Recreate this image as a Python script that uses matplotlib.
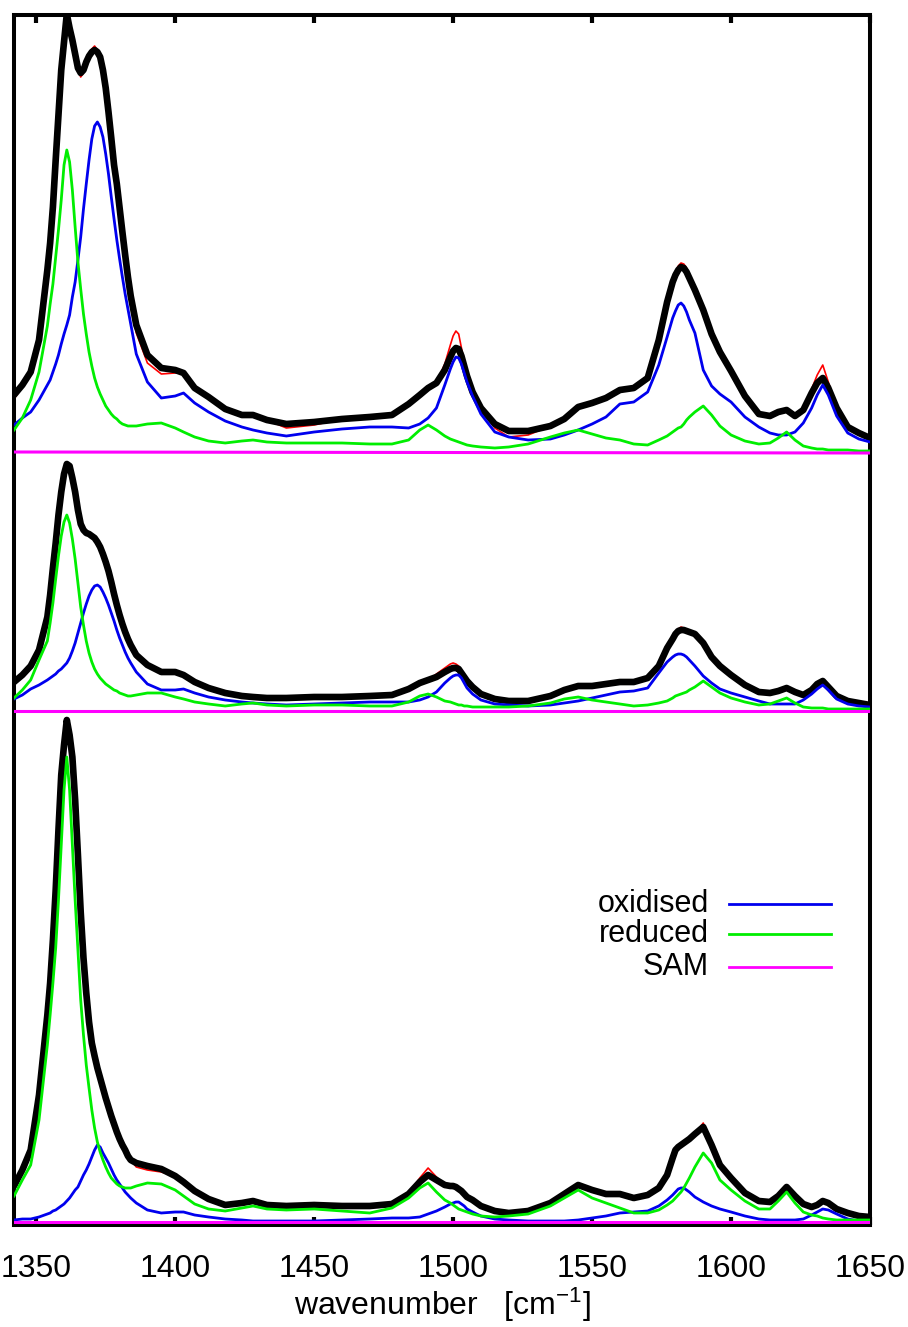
import matplotlib
matplotlib.use('Agg')
import matplotlib.pyplot as plt
import numpy as np

plt.rcParams['font.family'] = ['Liberation Sans', 'DejaVu Sans']
plt.rcParams['mathtext.default'] = 'regular'

wavenumber = [1342, 1345, 1348, 1351, 1354, 1355, 1356, 1357, 1358, 1359,
              1360, 1361, 1362, 1363, 1364, 1365, 1366, 1367, 1368, 1369,
              1370, 1371, 1372, 1373, 1374, 1375, 1376, 1377, 1378, 1379,
              1380, 1381, 1382, 1383, 1384, 1386, 1390, 1395, 1400, 1403,
              1407, 1412, 1418, 1424, 1428, 1433, 1440, 1450, 1460, 1470,
              1478, 1484, 1488, 1491, 1494, 1497, 1499, 1500, 1501, 1502,
              1503, 1504, 1505, 1507, 1510, 1515, 1520, 1527, 1535, 1540,
              1545, 1550, 1555, 1560, 1565, 1570, 1574, 1577, 1579, 1580,
              1581, 1582, 1583, 1584, 1585, 1587, 1590, 1593, 1596, 1600,
              1605, 1610, 1614, 1617, 1620, 1623, 1626, 1629, 1631, 1633,
              1635, 1638, 1642, 1646, 1650]

# top spectrum (arb. units above its SAM baseline)
fit_top = [57, 67, 80, 112, 182, 209, 245, 292, 337, 382,
           410, 438, 424, 412, 398, 384, 379, 382, 390, 396,
           400, 402, 400, 395, 382, 364, 340, 314, 287, 268,
           244, 220, 197, 175, 156, 127, 97, 84, 82, 79,
           64, 55, 43, 37, 37, 32, 28, 30, 33, 35,
           37, 48, 57, 64, 69, 82, 95, 101, 104, 103,
           96, 86, 76, 60, 44, 28, 21, 21, 26, 33,
           45, 49, 54, 62, 64, 74, 112, 150, 170, 177,
           182, 185, 184, 180, 174, 162, 142, 118, 100, 81,
           56, 38, 36, 40, 42, 36, 42, 59, 69, 74,
           64, 44, 25, 19, 14]
resid_top = [-4, -2, 0, 0, 0, 0, 0, 0, 0, 0,
             0, 0, 0, 0, 0, -2, -4, -3, 0, 2,
             3, 4, 2, 0, 0, 0, 0, 0, 0, 0,
             0, 0, -3, -5, -6, -8, -8, -6, -3, 0,
             0, 0, 0, 0, 0, 0, -4, -3, 0, 0,
             0, 0, 0, 0, 0, 6, 12, 15, 17, 15,
             8, 4, 2, 0, 0, -4, -6, -4, 0, 0,
             2, 0, 0, 0, 0, 0, 0, 0, 2, 3,
             4, 4, 4, 4, 3, 0, 3, 0, 0, 0,
             0, 0, 0, 0, 0, 0, 0, 4, 8, 13,
             6, 0, 0, 0, 0]
ox_top = [27, 34, 40, 52, 67, 72, 80, 88, 97, 108,
          118, 127, 137, 155, 170, 192, 215, 243, 268, 292,
          313, 326, 330, 325, 315, 298, 278, 255, 233, 212,
          193, 175, 158, 143, 128, 98, 70, 54, 56, 59,
          49, 40, 31, 25, 22, 19, 16, 20, 23, 25,
          25, 24, 28, 34, 44, 67, 83, 90, 95, 94,
          88, 79, 70, 56, 38, 20, 15, 12, 13, 17,
          22, 28, 35, 48, 50, 60, 87, 115, 134, 141,
          147, 149, 146, 140, 132, 119, 82, 66, 58, 50,
          35, 25, 19, 17, 17, 20, 29, 44, 57, 67,
          57, 36, 19, 13, 10]
red_top = [22, 34, 52, 80, 126, 148, 168, 195, 222, 252,
           287, 302, 290, 262, 225, 190, 163, 138, 118, 100,
           86, 74, 65, 58, 52, 46, 42, 38, 35, 33,
           30, 28, 27, 26, 26, 26, 28, 29, 24, 20,
           15, 11, 9, 11, 12, 10, 9, 9, 9, 8,
           8, 12, 22, 27, 22, 16, 13, 12, 11, 10,
           9, 8, 7, 6, 5, 4, 5, 8, 15, 19,
           22, 18, 14, 12, 8, 7, 12, 16, 20, 22,
           24, 25, 28, 32, 35, 40, 46, 37, 26, 17,
           11, 8, 9, 14, 20, 12, 6, 4, 3, 3,
           2, 2, 2, 1, 1]

# middle spectrum
fit_mid = [29, 36, 45, 61, 94, 116, 143, 168, 196, 219,
           237, 247, 245, 233, 219, 201, 187, 181, 178, 177,
           175, 173, 169, 164, 157, 149, 140, 129, 117, 106,
           96, 87, 79, 72, 66, 56, 46, 39, 39, 36,
           29, 23, 18, 15, 14, 13, 13, 14, 14, 15,
           16, 22, 28, 31, 34, 39, 42, 43, 43, 42,
           38, 34, 30, 24, 17, 12, 10, 10, 15, 21,
           25, 25, 27, 29, 29, 33, 45, 63, 72, 77,
           80, 81, 81, 80, 79, 77, 68, 54, 45, 36,
           26, 19, 18, 20, 23, 19, 16, 21, 27, 30,
           24, 15, 10, 8, 6]
resid_mid = [0, 0, 0, 0, 0, 0, 0, 0, 0, 0,
             0, 0, 0, 0, 0, 0, 0, 0, 0, 0,
             0, 0, 0, 0, 0, 0, 0, 0, 0, 0,
             0, 0, -2, -4, -4, -3, 0, 0, 0, 0,
             0, 0, 0, 0, 0, 0, -2, 0, 0, 0,
             0, 0, 0, 0, 3, 4, 5, 5, 4, 3,
             0, 0, 0, 0, 0, 0, 0, 0, 0, 0,
             0, 0, 0, 0, 0, 0, 0, 0, 0, 0,
             2, 3, 2, 0, 0, 0, 0, 0, 0, 0,
             0, 0, 0, 0, 0, 0, 0, 0, 0, 2,
             0, 0, 0, 0, 0]
ox_mid = [12, 16, 22, 26, 31, 33, 35, 37, 40, 42,
          45, 48, 53, 60, 68, 78, 88, 98, 107, 115,
          121, 125, 126, 124, 119, 113, 106, 98, 90, 81,
          73, 66, 59, 53, 48, 39, 27, 21, 21, 22,
          18, 14, 11, 9, 8, 7, 6, 7, 8, 9,
          9, 9, 11, 14, 19, 28, 33, 35, 36, 36,
          33, 28, 23, 17, 11, 7, 6, 5, 6, 8,
          10, 13, 16, 19, 20, 23, 38, 49, 54, 56,
          57, 57, 56, 54, 51, 45, 35, 28, 22, 18,
          14, 10, 7, 7, 7, 7, 11, 17, 22, 26,
          21, 12, 7, 5, 4]
red_mid = [13, 21, 31, 51, 70, 88, 108, 132, 155, 175,
           189, 196, 188, 172, 152, 128, 104, 86, 70, 58,
           49, 42, 37, 33, 30, 27, 25, 23, 21, 20,
           18, 17, 16, 15, 15, 16, 18, 18, 14, 12,
           9, 7, 5, 7, 8, 6, 5, 6, 6, 5,
           5, 9, 15, 17, 14, 10, 9, 8, 7, 6,
           6, 5, 5, 4, 4, 4, 4, 5, 8, 12,
           14, 11, 9, 7, 5, 6, 8, 10, 13, 15,
           16, 17, 18, 19, 21, 24, 30, 24, 18, 13,
           9, 6, 7, 10, 13, 8, 4, 3, 3, 3,
           2, 2, 2, 2, 2]

# bottom spectrum
fit_bot = [36, 52, 72, 127, 207, 239, 282, 332, 392, 447,
           477, 502, 487, 465, 422, 367, 310, 264, 229, 200,
           179, 166, 154, 144, 134, 124, 115, 106, 98, 90,
           83, 77, 72, 66, 62, 59, 56, 53, 46, 40,
           31, 23, 17, 19, 21, 17, 16, 17, 16, 16,
           18, 28, 40, 47, 42, 37, 36, 36, 35, 33,
           31, 28, 25, 22, 16, 11, 9, 11, 19, 28,
           37, 32, 28, 28, 24, 27, 34, 47, 64, 72,
           75, 77, 79, 81, 83, 88, 95, 77, 57, 44,
           29, 21, 20, 26, 35, 26, 18, 15, 17, 21,
           19, 13, 9, 6, 5]
resid_bot = [0, 0, 0, 0, 0, 0, 0, 0, 0, 0,
             0, 0, 0, 0, 0, 0, 0, 0, 0, 0,
             0, 0, 0, 0, 0, 0, 0, 0, 0, 0,
             0, 0, 0, 0, 0, -4, -4, -3, 0, 0,
             0, 0, 0, 0, 0, 0, 0, 0, 0, 0,
             0, 0, 4, 7, 3, 0, 0, 0, 0, 0,
             0, 0, 0, 0, 0, 0, 0, 0, 0, 0,
             2, 0, 0, 0, 0, 0, 0, 0, 0, 0,
             0, 2, 0, 0, 0, 0, 4, 0, 0, 0,
             0, 0, 0, 0, 0, 0, 0, 0, 0, 2,
             0, 0, 0, 0, 0]
ox_bot = [2, 3, 3, 5, 8, 9, 11, 12, 14, 16,
          18, 21, 24, 28, 32, 35, 41, 47, 52, 58,
          65, 72, 77, 75, 69, 64, 59, 53, 47, 42,
          38, 34, 30, 27, 24, 19, 12, 9, 10, 10,
          7, 5, 3, 2, 1, 1, 1, 1, 2, 3,
          4, 4, 5, 8, 11, 15, 18, 19, 20, 20,
          18, 16, 13, 10, 6, 3, 2, 1, 1, 1,
          2, 4, 6, 9, 10, 11, 16, 22, 27, 30,
          33, 34, 34, 32, 30, 25, 20, 16, 13, 10,
          6, 3, 2, 2, 2, 2, 3, 7, 10, 13,
          12, 8, 3, 1, 0]
red_bot = [26, 42, 57, 102, 177, 207, 239, 274, 322, 377,
           432, 465, 432, 377, 322, 272, 222, 187, 157, 134,
           112, 94, 80, 70, 62, 55, 49, 44, 41, 38,
           36, 35, 34, 34, 34, 36, 39, 38, 32, 26,
           18, 13, 11, 14, 16, 13, 12, 13, 11, 9,
           14, 24, 34, 39, 30, 22, 19, 17, 15, 13,
           12, 11, 10, 8, 6, 5, 6, 8, 16, 24,
           32, 24, 19, 14, 9, 9, 12, 17, 21, 24,
           27, 30, 34, 39, 44, 55, 69, 59, 42, 32,
           21, 13, 13, 21, 30, 19, 10, 7, 6, 4,
           3, 2, 2, 2, 2]

# SAM contribution (flat)
sam_x = [1342, 1650]
sam_top = [0, -1]
sam_mid = [0, 0]
sam_bot = [0, 0]

# vertical offsets of the three stacked spectra
offsets = [773, 514, 3]

legend_labels = ['oxidised', 'reduced', 'SAM']
legend_colors = ['#0000ee', '#00ee00', '#ff00ff']

fig = plt.figure(figsize=(9.08, 13.27), dpi=100)
ax = fig.add_axes([14/908, 1 - 1225/1327, 856/908, 1210/1327])

x = np.array(wavenumber)
panels = [(fit_top, resid_top, ox_top, red_top, sam_top),
          (fit_mid, resid_mid, ox_mid, red_mid, sam_mid),
          (fit_bot, resid_bot, ox_bot, red_bot, sam_bot)]

for off, (fit, resid, ox, red, sam) in zip(offsets, panels):
    fit = np.array(fit, dtype=float)
    data = fit + np.array(resid)
    ax.plot(x, data + off, color='#ff0000', lw=1.2, zorder=1)
    ax.plot(x, fit + off, color='black', lw=4.8, zorder=2,
            solid_joinstyle='round', solid_capstyle='round')
    ax.plot(x, np.array(ox) + off, color=legend_colors[0], lw=2, zorder=3)
    ax.plot(x, np.array(red) + off, color=legend_colors[1], lw=2, zorder=4)
    ax.plot(sam_x, np.array(sam) + off, color=legend_colors[2], lw=2.2, zorder=5)

ax.set_xlim(1342, 1650)
ax.set_ylim(0, 1210)
ax.set_yticks([])
ax.set_xticks([1350, 1400, 1450, 1500, 1550, 1600, 1650])
ax.tick_params(axis='x', direction='in', top=True, length=6, width=3,
               pad=21, labelsize=23)
for s in ax.spines.values():
    s.set_linewidth(2.9)
ax.set_xlabel('wavenumber   [cm$^{-1}$]', fontsize=23, labelpad=1)

# legend: labels right-aligned, line sample after the text
rows = [0.2657, 0.2405, 0.213]
for lab, col, yy in zip(legend_labels, legend_colors, rows):
    ax.text(0.812, yy, lab, transform=ax.transAxes, ha='right', va='center',
            fontsize=22)
    ax.plot([0.835, 0.954], [yy, yy], transform=ax.transAxes, color=col, lw=2)

fig.savefig('out.png', dpi=100)
